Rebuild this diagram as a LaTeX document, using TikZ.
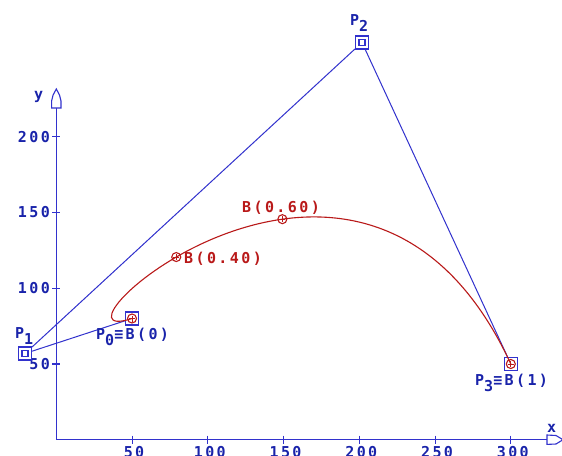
\documentclass[tikz,border=0pt]{standalone}
\usepackage{fontspec}
\newfontfamily\pixfont{DejaVu Sans Mono}[LetterSpace=16]
\definecolor{lineblue}{RGB}{50,50,205}
\definecolor{textblue}{RGB}{25,35,170}
\definecolor{curvered}{RGB}{185,25,25}
\tikzset{
  lbl/.style={font=\pixfont\bfseries\fontsize{15}{15}\selectfont, inner sep=0pt, text=textblue},
  rlbl/.style={lbl, text=curvered},
  sq/.style={draw=lineblue, line width=1.2pt, minimum size=13pt, inner sep=0pt, fill=white},
  ctrl/.style={sq, path picture={\draw[lineblue,line width=1.1pt]
      ([shift={(-3pt,-3pt)}]path picture bounding box.center) rectangle
      ([shift={(3pt,3pt)}]path picture bounding box.center);}},
  bmark/.style={circle, draw=curvered, line width=1.1pt, minimum size=9pt, inner sep=0pt,
    path picture={\draw[curvered,line width=0.9pt]
      ([xshift=-3pt]path picture bounding box.center) -- ([xshift=3pt]path picture bounding box.center)
      ([yshift=-3pt]path picture bounding box.center) -- ([yshift=3pt]path picture bounding box.center);}},
  axisline/.style={draw=lineblue, line width=1.4pt},
  tickmark/.style={draw=lineblue, line width=1.1pt},
  poly/.style={draw=lineblue, line width=1pt},
  curve/.style={draw=curvered, line width=1.1pt},
  arrowhead/.style={draw=lineblue, line width=1.1pt, fill=white, line join=miter}
}
\begin{document}
\begin{tikzpicture}[x=1pt,y=-1pt]
\useasboundingbox[fill=white] (0,0) rectangle (562,455);
% axes
\coordinate (O) at (56.3,439.7);
\coordinate (Yend) at (56.3,107);
\coordinate (Xend) at (547,439.7);
\draw[axisline] (Yend) -- (O) -- (Xend);
\draw[arrowhead] (56.3,89) -- (59.5,95) -- (61,101) -- (61,108) -- (51.6,108) -- (51.6,101) -- (53.1,95) -- cycle;
\draw[arrowhead] (563,439.7) -- (556,435.5) -- (547,435) -- (547,444.4) -- (556,444) -- cycle;
\node[lbl, anchor=base west] (ylab) at (34,99) {y};
\node[lbl, anchor=base west] (xlab) at (547,432) {x};
% ticks
\foreach \v/\px in {50/132.05,100/207.8,150/283.55,200/359.3,250/435.05,300/510.8}{
  \draw[tickmark] (\px,435.7) -- (\px,443.7);
  \node[lbl, anchor=north] (xt\v) at (\px+2,446) {\v};
}
\foreach \v/\py in {50/364,100/288.2,150/212.5,200/136.7}{
  \draw[tickmark] (52.3,\py) -- (60.3,\py);
  \node[lbl, anchor=east] (yt\v) at (50,\py) {\v};
}
% control points
\node[sq] (P0) at (132,318.5) {};
\node[ctrl] (P1) at (25,353.5) {};
\node[ctrl] (P2) at (362,42.5) {};
\node[sq] (P3) at (510.8,364) {};
\draw[poly] (P0) -- (P1) -- (P2) -- (P3);
\draw[curve] (P0.center) .. controls (P1.center) and (P2.center) .. (P3.center);
\path (P0.center) .. controls (P1.center) and (P2.center) .. (P3.center)
  node[bmark, pos=0.4] (B4) {} node[bmark, pos=0.6] (B6) {};
\node[bmark] (B0) at (P0.center) {};
\node[bmark] (B1) at (P3.center) {};
% labels
\node[lbl, anchor=base west] (L2) at (350,25) {P\raisebox{-6pt}{2}};
\node[lbl, anchor=base west] (L1) at (15,338) {P\raisebox{-6pt}{1}};
\node[lbl, anchor=base west] (L0) at (96,339) {P\raisebox{-6pt}{0}≡B(0)};
\node[lbl, anchor=base west] (L3) at (475,385) {P\raisebox{-6pt}{3}≡B(1)};
\node[rlbl, anchor=base west] (L4) at (184,263) {B(0.40)};
\node[rlbl, anchor=base west] (L6) at (242,212) {B(0.60)};
\end{tikzpicture}
\end{document}
